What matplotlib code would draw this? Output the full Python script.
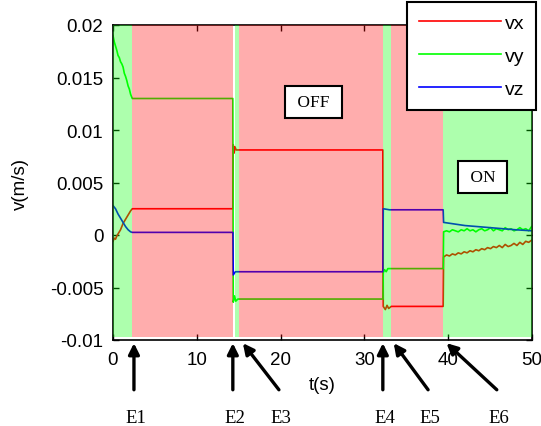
import matplotlib
matplotlib.use("Agg")
import matplotlib.pyplot as plt

# ---------------- data ----------------
vx_t = [0, 0.15, 0.3, 0.45, 0.6, 0.75, 0.9, 1.05, 1.2, 1.35, 1.5, 1.65, 1.8, 1.95, 2.1, 2.3,
        14.3, 14.35, 14.45, 14.55, 14.7, 32.2, 32.25, 32.5, 32.7, 32.9, 33.2, 39.4,
        39.45, 39.8, 40.15, 40.5, 40.85, 41.2, 41.55, 41.9, 42.25, 42.6, 42.95, 43.3, 43.65,
        44.0, 44.35, 44.7, 45.05, 45.4, 45.75, 46.1, 46.45, 46.8, 47.15, 47.5, 47.85, 48.2,
        48.55, 48.9, 49.25, 49.6, 49.95]
vx_v = [-0.0006, -0.0003, -0.0004, -0.0001, 0.0001, 0.0003, 0.0005, 0.0008, 0.0011, 0.0013,
        0.0015, 0.0017, 0.0019, 0.0021, 0.0023, 0.0025,
        0.0025, 0.0086, 0.0078, 0.0084, 0.0081, 0.0081, -0.0068, -0.0071, -0.0067, -0.0070,
        -0.0068, -0.0068,
        -0.0021, -0.0019, -0.0020, -0.0018, -0.0019, -0.0017, -0.0018, -0.0016, -0.0017,
        -0.0015, -0.0016, -0.0014, -0.0015, -0.0013, -0.0014, -0.0012, -0.0013, -0.0011,
        -0.0012, -0.0010, -0.0012, -0.0009, -0.0011, -0.0010, -0.0008, -0.0010, -0.0007,
        -0.0009, -0.0006, -0.0007, -0.0005]

vy_t = [0, 0.15, 0.3, 0.45, 0.6, 0.75, 0.9, 1.05, 1.2, 1.35, 1.5, 1.65, 1.8, 1.95, 2.1, 2.3,
        14.3, 14.35, 14.5, 14.65, 14.9, 32.2, 32.25, 32.4, 32.6, 32.8, 33.2, 39.4,
        39.45, 39.8, 40.15, 40.5, 40.85, 41.2, 41.55, 41.9, 42.25, 42.6, 42.95, 43.3, 43.65,
        44.0, 44.35, 44.7, 45.05, 45.4, 45.75, 46.1, 46.45, 46.8, 47.15, 47.5, 47.85, 48.2,
        48.55, 48.9, 49.25, 49.6, 49.95]
vy_v = [0.0190, 0.0184, 0.0180, 0.0176, 0.0171, 0.0169, 0.0165, 0.0163, 0.0160, 0.0154,
        0.0151, 0.0147, 0.0142, 0.0139, 0.0134, 0.0130,
        0.0130, -0.0064, -0.0058, -0.0063, -0.0061, -0.0061, -0.0036, -0.0033, -0.0035,
        -0.0032, -0.0032, -0.0032,
        0.0003, 0.0004, 0.0003, 0.0005, 0.0004, 0.0003, 0.0005, 0.0004, 0.0006, 0.0004,
        0.0005, 0.0003, 0.0005, 0.0006, 0.0004, 0.0005, 0.0007, 0.0004, 0.0006, 0.0005,
        0.0004, 0.0007, 0.0005, 0.0006, 0.0004, 0.0005, 0.0007, 0.0005, 0.0006, 0.0004,
        0.0008]

vz_t = [0, 0.3, 0.6, 0.9, 1.2, 1.5, 1.8, 2.1, 2.3,
        14.3, 14.35, 14.6, 32.2, 32.25, 33.0, 39.4, 39.45, 42, 45, 48, 50]
vz_v = [0.0028, 0.0025, 0.0020, 0.0016, 0.0012, 0.0008, 0.0005, 0.0003, 0.00025,
        0.00025, -0.0038, -0.0035, -0.0035, 0.0025, 0.0024, 0.0024, 0.0012, 0.0009,
        0.0007, 0.0005, 0.0004]

series_names = ["vx", "vy", "vz"]
series_colors = ["#FF0000", "#00FF00", "#0000FF"]

# thruster state intervals
state_labels = ["ON", "OFF", "ON", "OFF", "ON", "OFF", "ON"]
state_start = [0, 2.3, 14.6, 15.07, 32.2, 33.2, 39.4]
state_end = [2.3, 14.35, 15.07, 32.2, 33.2, 39.4, 50]

# events
event_names = ["E1", "E2", "E3", "E4", "E5", "E6"]
event_tip = [2.5, 14.3, 15.5, 32.2, 33.5, 39.8]
event_tail = [2.5, 14.3, 19.8, 32.2, 37.6, 45.8]

xticks = [0, 10, 20, 30, 40, 50]
yticks = [-0.01, -0.005, 0, 0.005, 0.01, 0.015, 0.02]
yticklabels = ["-0.01", "-0.005", "0", "0.005", "0.01", "0.015", "0.02"]

# ---------------- plot ----------------
SANS = ["Liberation Sans", "DejaVu Sans"]
SERIF = ["Liberation Serif", "DejaVu Serif"]
plt.rcParams["font.family"] = SANS

fig = plt.figure(figsize=(5.41, 4.27), dpi=100)
ax = fig.add_axes([113 / 541, 1 - 341 / 427, 419 / 541, 315 / 427])

lines = []
for t, v, name, c in zip([vx_t, vy_t, vz_t], [vx_v, vy_v, vz_v], series_names, series_colors):
    ln, = ax.plot(t, v, color=c, lw=1.2, label=name, zorder=2)
    lines.append(ln)

for lab, s, e in zip(state_labels, state_start, state_end):
    col = "#FF0000" if lab == "OFF" else "#00FF00"
    ax.axvspan(s, e, ymin=0.008, ymax=1.0, color=col, alpha=0.32, lw=0,
               zorder=3, clip_on=False)

ax.set_xlim(0, 50)
ax.set_ylim(-0.01, 0.02)
ax.set_xticks(xticks)
ax.set_xticklabels([str(x) for x in xticks])
ax.set_yticks(yticks)
ax.set_yticklabels(yticklabels)
ax.tick_params(direction="in", top=True, right=True, length=4, width=1,
               labelsize=13.5)
ax.tick_params(axis="x", pad=8)
ax.tick_params(axis="y", pad=7)
for sp in ax.spines.values():
    sp.set_linewidth(1.2)
    sp.set_color("black")

ax.set_xlabel("t(s)", fontsize=13.5)
ax.xaxis.set_label_coords(0.499, -0.115)
ax.set_ylabel("v(m/s)", fontsize=13.5)
ax.yaxis.set_label_coords(-0.2, 0.5)

ax.text(23.9, 0.01266, " OFF ", family=SERIF, fontsize=12.5, ha="center", va="center",
        zorder=6, bbox=dict(boxstyle="square,pad=0.45", fc="white", ec="black", lw=1.5))
ax.text(44.1, 0.00552, " ON ", family=SERIF, fontsize=12.5, ha="center", va="center",
        zorder=6, bbox=dict(boxstyle="square,pad=0.45", fc="white", ec="black", lw=1.5))

for name, tip, tail in zip(event_names, event_tip, event_tail):
    ax.annotate("", xy=(tip, -0.01), xycoords=("data", "axes fraction"),
                xytext=(tail, -0.158), textcoords=("data", "axes fraction"),
                arrowprops=dict(arrowstyle="-|>", color="black", lw=2.4,
                                mutation_scale=16, shrinkA=0, shrinkB=0),
                annotation_clip=False)
    ax.text(tail + 0.2, -0.245, name, transform=ax.get_xaxis_transform(),
            family=SERIF, fontsize=13.5, ha="center", va="center")

leg = fig.legend(handles=lines, loc="upper left",
                 bbox_to_anchor=(407 / 541, 1 - 3 / 427), bbox_transform=fig.transFigure,
                 borderaxespad=0, fontsize=14, handlelength=4.2, handletextpad=0.2,
                 labelspacing=0.8, borderpad=0.62, frameon=True, fancybox=False,
                 framealpha=1, edgecolor="black")
leg.get_frame().set_linewidth(1.5)
leg.set_zorder(10)

fig.savefig("out.png", dpi=100)
